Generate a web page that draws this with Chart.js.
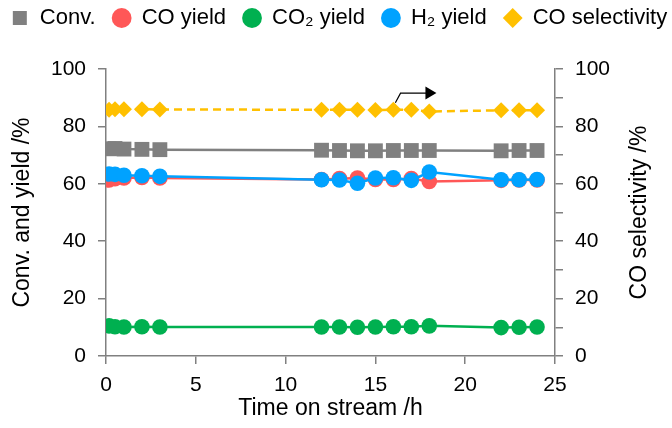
<!DOCTYPE html>
<html lang="en">
<head>
  <meta charset="UTF-8" />
  <title>Conversion, yield and CO selectivity vs time on stream</title>
  <script src="https://cdn.jsdelivr.net/npm/chart.js"></script>
  <style>
    html, body { margin: 0; padding: 0; background: #fff; }
    #wrap { width: 672px; height: 428px; }
  </style>
</head>
<body>
  <div id="wrap"><canvas id="chart" width="672" height="428"></canvas></div>

  <script>
    // Time on stream (h)
    const hours = [0.17, 0.5, 1, 2, 3, 12, 13, 14, 15, 16, 17, 18, 22, 23, 24];

    // Left axis (%)
    const conv    = [72.2, 72.3, 72.1, 72.0, 71.9, 71.7, 71.6, 71.5, 71.5, 71.6, 71.6, 71.6, 71.5, 71.6, 71.6];
    const coYield = [61.3, 61.8, 62.0, 62.2, 62.0, 61.5, 61.8, 62.0, 61.5, 61.5, 61.8, 60.8, 61.2, 61.3, 61.3];
    const co2Yield = [10.5, 10.2, 10.1, 10.2, 10.1, 10.1, 10.1, 10.0, 10.1, 10.2, 10.2, 10.5, 9.9, 10.0, 10.1];
    const h2Yield = [63.4, 63.3, 63.0, 62.8, 62.6, 61.4, 61.3, 60.2, 62.0, 62.1, 61.2, 64.1, 61.4, 61.4, 61.5];

    // Right axis (%)
    const coSel = [85.8, 86.0, 86.0, 86.0, 85.9, 85.8, 85.8, 85.8, 85.7, 85.8, 85.8, 85.2, 85.6, 85.6, 85.6];

    // arrow pointing to the right axis, starts at the 16 h selectivity point
    const arrowFromIndex = 9;
    const arrowElbow = [16.4, 91.6];
    const arrowTip = [18.4, 91.6];

    const FONT = "'Liberation Sans', Arial, sans-serif";
    const AXIS = '#808080';
    const LEGEND_H = 69;

    const pts = (ys) => hours.map((h, i) => ({ x: h, y: ys[i] }));

    // keep the legend on one row and reserve the space above the plot
    const legendFitPlugin = {
      id: 'legendFit',
      beforeLayout(chart) {
        const lg = chart.legend;
        if (!lg || lg._patched) return;
        const fit = lg.fit.bind(lg);
        lg.fit = function () {
          const mw = this.maxWidth;
          this.maxWidth = 1000;
          fit();
          this.maxWidth = mw;
          this.width = mw;
          this.height = LEGEND_H;
        };
        const draw = lg.draw.bind(lg);
        lg.draw = function () {
          const c = this.ctx;
          const l = this.left, r = this.right;
          this.left = l - 14;
          this.right = r + 20;
          c.save();
          c.translate(0, -10);
          draw();
          c.restore();
          this.left = l;
          this.right = r;
        };
        lg._patched = true;
      }
    };

    const arrowPlugin = {
      id: 'selArrow',
      afterDatasetsDraw(chart) {
        const { ctx } = chart;
        const xs = chart.scales.x, ys = chart.scales.y1;
        const x0 = xs.getPixelForValue(hours[arrowFromIndex]) + 2;
        const y0 = ys.getPixelForValue(coSel[arrowFromIndex]) - 7;
        const x1 = xs.getPixelForValue(arrowElbow[0]);
        const y1 = ys.getPixelForValue(arrowElbow[1]);
        const x2 = xs.getPixelForValue(arrowTip[0]);
        ctx.save();
        ctx.strokeStyle = '#000';
        ctx.lineWidth = 1.2;
        ctx.beginPath();
        ctx.moveTo(x0, y0);
        ctx.lineTo(x1, y1);
        ctx.lineTo(x2 - 10, y1);
        ctx.stroke();
        ctx.fillStyle = '#000';
        ctx.beginPath();
        ctx.moveTo(x2 - 11, y1 - 6.5);
        ctx.lineTo(x2, y1);
        ctx.lineTo(x2 - 11, y1 + 6.5);
        ctx.closePath();
        ctx.fill();
        ctx.restore();
      }
    };

    // right axis title, reading bottom to top like the left one
    const rightTitlePlugin = {
      id: 'rightTitle',
      afterDraw(chart) {
        const { ctx, chartArea } = chart;
        ctx.save();
        ctx.translate(640, (chartArea.top + chartArea.bottom) / 2);
        ctx.rotate(-Math.PI / 2);
        ctx.fillStyle = '#000';
        ctx.font = "23px " + FONT;
        ctx.textAlign = 'center';
        ctx.textBaseline = 'middle';
        ctx.fillText('CO selectivity /%', 0, 0);
        ctx.restore();
      }
    };

    new Chart(document.getElementById('chart'), {
      type: 'line',
      data: {
        datasets: [
          {
            label: 'Conv.', data: pts(conv), yAxisID: 'y', order: 4,
            borderColor: '#808080', backgroundColor: '#808080', borderWidth: 2.5,
            pointStyle: 'rect', pointRadius: 10.5, pointBorderWidth: 0
          },
          {
            label: 'CO yield', data: pts(coYield), yAxisID: 'y', order: 2,
            borderColor: '#FF5757', backgroundColor: '#FF5757', borderWidth: 2.5,
            pointStyle: 'circle', pointRadius: 7.8, pointBorderWidth: 0
          },
          {
            label: 'CO\u2082 yield', data: pts(co2Yield), yAxisID: 'y', order: 3,
            borderColor: '#00B050', backgroundColor: '#00B050', borderWidth: 2.5,
            pointStyle: 'circle', pointRadius: 7.8, pointBorderWidth: 0
          },
          {
            label: 'H\u2082 yield', data: pts(h2Yield), yAxisID: 'y', order: 1,
            borderColor: '#00A2FF', backgroundColor: '#00A2FF', borderWidth: 2.5,
            pointStyle: 'circle', pointRadius: 7.8, pointBorderWidth: 0
          },
          {
            label: 'CO selectivity', data: pts(coSel), yAxisID: 'y1', order: 5,
            borderColor: '#FFC000', backgroundColor: '#FFC000', borderWidth: 2.5,
            borderDash: [8, 5],
            pointStyle: 'rectRot', pointRadius: 8, pointBorderWidth: 0
          }
        ]
      },
      options: {
        responsive: false,
        animation: false,
        layout: { padding: 0 },
        plugins: {
          tooltip: { enabled: false },
          legend: {
            position: 'top',
            labels: {
              usePointStyle: true,
              boxWidth: 18,
              boxHeight: 14,
              padding: 17,
              color: '#000',
              font: { family: FONT, size: 22 },
              sort: (a, b) => a.datasetIndex - b.datasetIndex
            }
          }
        },
        scales: {
          x: {
            type: 'linear', min: 0, max: 25,
            ticks: { stepSize: 5, color: '#000', padding: 9, font: { family: FONT, size: 21 } },
            grid: { drawOnChartArea: false, color: AXIS, tickLength: 8, lineWidth: 1.5 },
            border: { color: AXIS, width: 1.5 },
            title: { display: true, text: 'Time on stream /h', color: '#000', font: { family: FONT, size: 23 }, padding: { top: 0, bottom: 6 } },
            afterFit: (s) => { s.height = 72; }
          },
          y: {
            position: 'left', min: 0, max: 100,
            ticks: { stepSize: 20, color: '#000', padding: 12, font: { family: FONT, size: 21 } },
            grid: { drawOnChartArea: false, color: AXIS, tickLength: 8, lineWidth: 1.5 },
            border: { color: AXIS, width: 1.5 },
            title: { display: true, text: 'Conv. and yield /%', color: '#000', font: { family: FONT, size: 23 }, padding: { top: 9, bottom: 4 } },
            afterFit: (s) => { s.width = 106; }
          },
          y1: {
            position: 'right', min: 0, max: 100,
            ticks: {
              stepSize: 10, color: '#000', padding: 12, font: { family: FONT, size: 21 },
              callback: (v) => (v % 20 === 0 ? v : '')
            },
            grid: { drawOnChartArea: false, color: AXIS, tickLength: 8, lineWidth: 1.5 },
            border: { color: AXIS, width: 1.5 },
            title: { display: false },
            afterFit: (s) => { s.width = 117; }
          }
        }
      },
      plugins: [legendFitPlugin, arrowPlugin, rightTitlePlugin]
    });
  </script>
</body>
</html>
